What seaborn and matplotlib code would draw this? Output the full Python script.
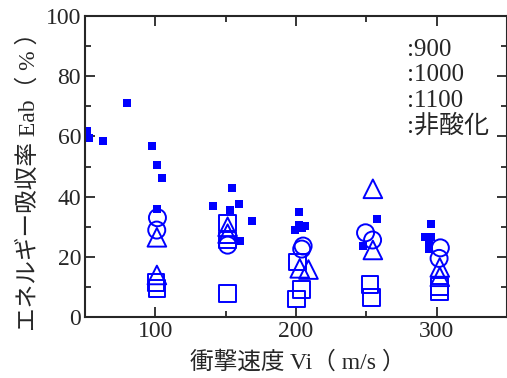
import matplotlib
matplotlib.use("Agg")
import matplotlib.pyplot as plt
import seaborn as sns
from matplotlib.ticker import MultipleLocator

# --- data ---
# open circles
c_speed = [101.4, 100.9, 151.3, 205.0, 204.0, 249.4, 254.4, 302.6, 301.7]
c_eab = [33.0, 28.9, 23.9, 23.6, 22.6, 28.0, 25.6, 23.0, 19.5]
# open triangles
t_speed = [101.0, 101.0, 151.3, 151.3, 202.6, 208.8, 254.6, 254.6, 302.2, 302.2]
t_eab = [26.5, 14.0, 30.0, 27.7, 16.2, 15.8, 42.6, 22.3, 16.5, 13.4]
# open squares
s_speed = [100.4, 101.0, 151.3, 151.3, 151.3, 200.9, 204.0, 200.2, 252.7, 253.6, 301.9, 301.9]
s_eab = [11.5, 9.5, 31.3, 25.6, 7.9, 18.3, 9.2, 6.0, 10.9, 6.5, 10.1, 8.4]
# filled squares
f_speed = [51.3, 53.0, 62.4, 79.8, 97.4, 100.9, 104.3, 101.4,
           140.6, 154.2, 153.2, 159.2, 168.9, 160.1,
           202.4, 199.1, 202.1, 206.2, 204.2,
           257.2, 247.8,
           295.7, 291.7, 296.0, 294.8, 294.3]
f_eab = [61.9, 59.4, 58.6, 71.1, 56.8, 50.4, 46.2, 35.9,
         36.8, 42.8, 35.7, 37.4, 31.8, 25.3,
         34.9, 28.8, 30.6, 30.3, 29.5,
         32.7, 23.6,
         30.9, 26.6, 26.5, 24.8, 22.6]

legend_labels = [":900", ":1000", ":1100", ":非酸化"]

BLUE = "#0000ff"

sns.set_style("ticks")
plt.rcParams["font.family"] = ["Liberation Serif", "Noto Sans CJK JP"]

fig = plt.figure(figsize=(5.07, 3.78), dpi=100)
ax = fig.add_axes([0.168, 0.161, 0.832, 0.797])

sns.scatterplot(x=f_speed, y=f_eab, marker="s", s=30, color=BLUE,
                edgecolor=BLUE, linewidth=0, ax=ax, zorder=2)
sns.scatterplot(x=s_speed, y=s_eab, marker="s", s=140, fc="none",
                ec=BLUE, linewidth=1.4, ax=ax, zorder=3)
sns.scatterplot(x=c_speed, y=c_eab, marker="o", s=150, fc="none",
                ec=BLUE, linewidth=1.4, ax=ax, zorder=3)
sns.scatterplot(x=t_speed, y=t_eab, marker="^", s=180, fc="none",
                ec=BLUE, linewidth=1.4, ax=ax, zorder=3)

ax.set_xlim(50, 350)
ax.set_ylim(0, 100)
ax.set_xticks([100, 200, 300])
ax.xaxis.set_minor_locator(MultipleLocator(50))
ax.yaxis.set_major_locator(MultipleLocator(20))
ax.yaxis.set_minor_locator(MultipleLocator(10))
ax.tick_params(which="both", direction="in", top=True, right=True,
               labelsize=17, width=1.3, pad=3)
ax.tick_params(which="major", length=7.5)
ax.tick_params(which="minor", length=4)
for sp in ax.spines.values():
    sp.set_linewidth(1.5)

ax.set_xlabel("衝撃速度 Vi（ m/s ）", fontsize=17)
ax.set_ylabel("エネルギー吸収率 Eab（ % ）", fontsize=17)
ax.xaxis.set_label_coords(0.505, -0.112, transform=ax.transAxes)
ax.yaxis.set_label_coords(-0.108, 0.47, transform=ax.transAxes)

for i, lab in enumerate(legend_labels):
    ax.text(0.762, 0.887 - i * 0.084, lab, transform=ax.transAxes,
            fontsize=18, va="center", ha="left")

fig.savefig("out.png", dpi=100)
